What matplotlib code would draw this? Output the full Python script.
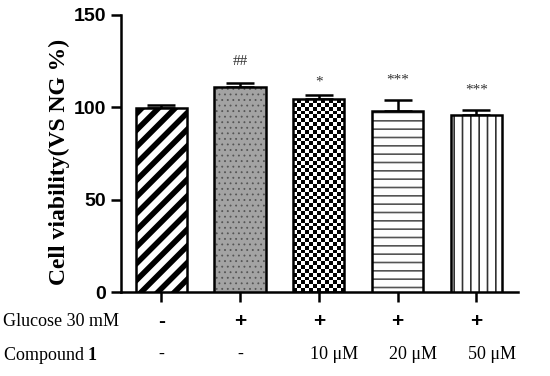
import numpy as np
import matplotlib
matplotlib.use("Agg")
import matplotlib.pyplot as plt

# Dados
grupos = ["NG", "HG", "C10", "C20", "C50"]
viabilidade = [99.8, 111.2, 104.3, 98.2, 95.7]
erro = [1.6, 2.0, 2.2, 5.6, 3.0]
marcas = ["", "##", "*", "***", "***"]
glicose = ["-", "+", "+", "+", "+"]
composto = ["-", "-", "10 \u03bcM", "20 \u03bcM", "50 \u03bcM"]
yticks = [0, 50, 100, 150]

plt.rcParams["hatch.linewidth"] = 1.0
plt.rcParams["mathtext.fontset"] = "custom"
plt.rcParams["mathtext.bf"] = "Liberation Serif:bold"
plt.rcParams["mathtext.rm"] = "Liberation Serif"

fig = plt.figure(figsize=(5.5, 3.76), dpi=100)
ax = fig.add_axes([0.22, 0.2234, 0.722, 0.737])

x = np.arange(len(grupos))
largura = 0.65
estilos = [
    dict(facecolor="white", hatch="//"),
    dict(facecolor="#a3a3a3", hatch="..."),
    dict(facecolor="white", hatch=None),
    dict(facecolor="white", hatch="--"),
    dict(facecolor="white", hatch="||"),
]

barras = []
for i in range(len(grupos)):
    b = ax.bar(x[i], viabilidade[i], width=largura, edgecolor="black",
               linewidth=1.8, zorder=3, **estilos[i])[0]
    barras.append(b)

# cores das hachuras
barras[0].set_hatch_linewidth(4.0)
barras[1].set_hatch_linewidth(0.6)
barras[3].set_hatch_linewidth(1.2)
barras[4].set_hatch_linewidth(1.2)
for b, c in zip(barras, ["black", "#555555", "black", "#555555", "#333333"]):
    b._hatch_color = matplotlib.colors.to_rgba(c)

# padrão xadrez na terceira barra
b = barras[2]
ncol, nlin = 13, 50
xadrez = (np.add.outer(np.arange(nlin), np.arange(ncol)) % 2).astype(float)
im = ax.imshow(xadrez, cmap="gray", extent=(b.get_x(), b.get_x() + b.get_width(), 0, b.get_height()),
               aspect="auto", interpolation="nearest", zorder=2.5, origin="lower")
im.set_clip_path(b)
b.set_facecolor("none")

# barras de erro (só para cima)
ax.errorbar(x, viabilidade, yerr=[np.zeros(len(erro)), erro], fmt="none",
            ecolor="black", elinewidth=1.8, capsize=10, capthick=1.8, zorder=2)

# marcas de significância
alturas = [0, 124.5, 113.5, 114.5, 109.5]
for i, m in enumerate(marcas):
    if m:
        ax.text(x[i], alturas[i], m, ha="center", va="center", fontsize=11,
                color="#333333", family="Liberation Serif")

ax.set_xlim(-0.51, 4.53)
ax.set_ylim(0, 150)
ax.set_yticks(yticks)
ax.set_yticklabels([str(t) for t in yticks], fontsize=14, fontweight="bold",
                   family="Liberation Sans")
ax.set_xticks(x)
ax.set_xticklabels([])
ax.tick_params(axis="both", direction="out", length=7, width=1.8)
for s in ["top", "right"]:
    ax.spines[s].set_visible(False)
for s in ["left", "bottom"]:
    ax.spines[s].set_linewidth(1.8)

ax.set_ylabel("Cell viability(VS NG %)", fontsize=17, fontweight="bold",
              family="Liberation Serif")
ax.yaxis.set_label_coords(-0.128, 0.47)

# linhas de tratamento abaixo do eixo
trans = ax.get_xaxis_transform()
fig.text(0.005, 1 - 322 / 376, "Glucose 30 mM", fontsize=13, family="Liberation Serif",
         va="center", ha="left")
fig.text(0.005, 1 - 355 / 376, r"Compound $\mathbf{1}$", fontsize=13, family="Liberation Serif",
         va="center", ha="left")
for i in range(len(grupos)):
    ax.text(x[i], -0.108, glicose[i], transform=trans, ha="center", va="center",
            fontsize=15, fontweight="bold", family="Liberation Sans")
    ax.text(x[i] + (0.2 if composto[i] != "-" else 0), -0.225, composto[i], transform=trans,
            ha="center", va="center", fontsize=13, family="Liberation Serif")

fig.savefig("out.png", dpi=100)
